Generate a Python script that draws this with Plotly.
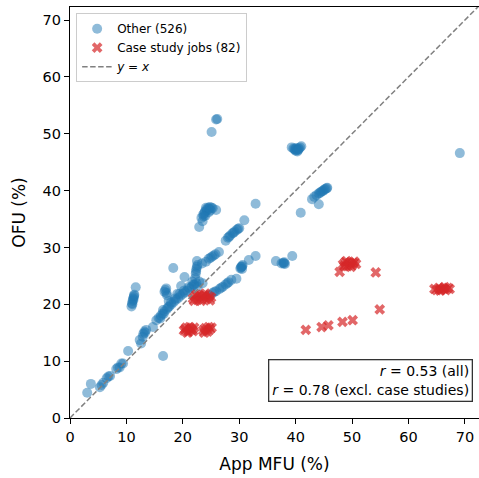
import plotly.graph_objects as go

# ---- data ----
other_mfu = [3.05, 3.7, 5.3, 5.6, 5.9, 6.5, 6.8, 7.1, 8.2, 8.5, 8.8, 9.1, 9.4, 10.3,
             10.9, 11.0, 11.1, 11.2, 11.3, 11.4, 11.65, 11.05, 11.25, 11.35,
             12.35, 12.6, 12.9, 13.2, 13.5, 14.7, 16.5, 13.0, 13.3,
             16.75, 17.05, 17.2, 16.9, 17.1,
             15.3, 15.7, 16.1, 16.4, 16.5, 16.8, 17.2, 17.5, 17.6, 18.0, 18.4, 18.8, 19.0, 19.2,
             19.6, 19.7, 20.0, 20.4, 20.8, 21.2, 21.6, 21.7, 22.0, 22.4, 22.6, 22.9, 23.5,
             16.0, 16.6, 17.4, 17.9, 18.6, 19.4, 20.2, 21.0, 21.9,
             18.3, 20.3,
             22.2, 22.3, 22.4, 22.6, 22.5, 22.35, 22.5,
             23.4, 24.1, 24.6, 25.2, 25.8, 26.4, 24.9, 25.5,
             24.7, 25.3, 25.9, 26.5, 27.1, 27.6, 28.1, 28.6, 29.5, 25.6, 26.8, 27.9,
             27.6, 28.0, 28.4, 28.8, 29.2, 29.6, 30.0, 30.9, 32.9, 28.2, 29.0, 29.8,
             30.2, 30.4, 30.6, 30.5, 31.7, 32.9, 30.3, 30.5,
             23.3, 23.6, 23.9, 24.2, 24.5, 24.8, 25.1, 24.0, 23.5, 24.6, 25.3, 25.9, 22.9,
             23.8, 24.3, 24.7, 24.1, 24.9, 23.7,
             25.1, 25.9, 26.1,
             36.5, 37.5, 37.8, 38.1, 39.4, 37.9, 38.0,
             39.3, 39.6, 39.9, 40.2, 40.5, 40.8, 40.0, 40.3, 41.0, 39.8, 40.1, 40.6, 40.4,
             42.9, 43.3, 43.7, 44.1, 44.5, 44.9, 45.3, 45.6, 44.1, 40.9, 44.7, 45.1, 45.5, 44.3,
             69.1]
other_ofu = [4.45, 6.0, 5.4, 5.8, 6.2, 7.0, 7.3, 7.4, 8.6, 8.9, 8.9, 9.6, 9.6, 11.8,
             19.6, 20.2, 20.6, 21.0, 21.3, 21.7, 23.0, 20.0, 20.8, 21.5,
             13.7, 13.1, 14.3, 15.2, 15.5, 16.0, 10.9, 14.8, 15.0,
             22.2, 22.8, 21.6, 22.5, 22.0,
             17.2, 17.6, 18.0, 18.4, 19.0, 18.8, 19.2, 20.6, 19.6, 20.0, 20.4, 20.8, 21.8, 21.1,
             21.5, 23.2, 21.8, 22.1, 22.4, 22.8, 23.1, 24.0, 23.4, 23.7, 23.1, 24.0, 23.7,
             17.5, 18.3, 19.5, 20.3, 21.0, 21.8, 22.4, 23.0, 23.5,
             26.4, 24.8,
             24.6, 25.4, 26.2, 26.9, 27.6, 25.8, 26.6,
             27.2, 27.5, 28.0, 28.4, 28.8, 29.2, 28.2, 28.6,
             21.6, 22.0, 22.3, 22.7, 23.1, 23.5, 23.9, 24.3, 24.5, 22.2, 22.9, 23.7,
             31.2, 31.7, 32.1, 32.5, 32.8, 33.1, 33.4, 34.8, 37.7, 31.9, 32.6, 33.3,
             26.3, 26.6, 26.9, 26.2, 27.8, 28.5, 26.5, 26.7,
             35.2, 35.8, 36.3, 36.7, 37.0, 37.1, 37.0, 35.6, 34.6, 36.2, 36.9, 36.6, 33.6,
             36.0, 36.5, 36.8, 37.0, 36.5, 35.5,
             50.3, 52.5, 52.6,
             27.6, 27.2, 27.3, 27.1, 28.5, 27.2, 27.4,
             47.6, 47.4, 47.2, 47.2, 47.3, 47.6, 47.0, 46.9, 47.8, 47.3, 47.5, 47.4, 47.1,
             38.5, 38.9, 39.2, 39.5, 39.8, 40.0, 40.3, 40.5, 37.6, 36.1, 39.9, 40.2, 40.4, 39.6,
             46.6]

case_mfu = [21.8, 22.2, 22.6, 23.0, 23.4, 23.8, 24.2, 24.6, 25.0, 22.4, 23.2, 24.0, 24.8, 22.0, 23.6,
            20.2, 20.6, 21.0, 21.4, 21.8, 22.0, 20.8, 21.2, 21.6, 20.4,
            23.6, 24.0, 24.4, 24.8, 25.1, 24.2, 24.6, 23.8,
            48.4, 48.8, 49.2, 49.6, 50.0, 50.4, 50.7, 49.0, 49.8, 48.6, 50.2,
            47.8, 54.2, 54.9, 41.8, 44.6, 45.8, 48.3, 50.1,
            64.6, 65.0, 65.4, 65.8, 66.2, 66.6, 67.0, 67.3, 65.6, 66.4]
case_ofu = [21.0, 21.4, 20.8, 21.5, 21.1, 21.6, 20.9, 21.4, 21.2, 21.7, 20.6, 21.9, 20.7, 20.6, 21.3,
            15.4, 15.9, 15.2, 15.7, 15.3, 15.9, 15.0, 16.0, 15.5, 15.6,
            15.4, 15.8, 15.2, 15.6, 15.9, 15.5, 16.0, 15.0,
            27.0, 27.4, 26.7, 27.3, 26.9, 27.5, 27.1, 27.6, 26.6, 26.7, 27.3,
            25.7, 25.6, 19.1, 15.5, 16.0, 16.3, 16.9, 17.2,
            22.7, 22.5, 22.9, 22.6, 22.8, 22.5, 22.9, 22.7, 22.4, 23.0]

diag = [0, 72.5]
ticks = [0, 10, 20, 30, 40, 50, 60, 70]
tick_text = ["0", "10", "20", "30", "40", "50", "60", "70"]

FONT = "DejaVu Sans"

fig = go.Figure()
fig.add_trace(go.Scatter(
    x=other_mfu, y=other_ofu, mode="markers", name="Other (526)",
    marker=dict(color="rgba(31,119,180,0.5)", size=10, line=dict(width=0)),
))
fig.add_trace(go.Scatter(
    x=case_mfu, y=case_ofu, mode="markers", name="Case study jobs (82)",
    marker=dict(color="rgba(214,39,40,0.7)", size=9.5, symbol="x", line=dict(width=0)),
))
fig.add_trace(go.Scatter(
    x=diag, y=diag, mode="lines", name="<i>y</i> = <i>x</i>",
    line=dict(color="gray", width=1.5, dash="5.5px,2.5px"),
))

axis_common = dict(
    showgrid=False, zeroline=False, showline=True, linecolor="black", linewidth=1.3,
    ticks="outside", ticklen=5, tickwidth=1.2, tickcolor="black",
    tickvals=ticks, ticktext=tick_text,
    tickfont=dict(family=FONT, size=14.5, color="black"),
)

fig.update_layout(
    width=479, height=478,
    margin=dict(l=70, r=0, t=7, b=60),
    paper_bgcolor="white", plot_bgcolor="white",
    font=dict(family=FONT, color="black"),
    xaxis=dict(range=[0, 72.5], mirror=True,
               title=dict(text="App MFU (%)", font=dict(family=FONT, size=17), standoff=14),
               **axis_common),
    yaxis=dict(range=[0, 72.3], mirror=False,
               title=dict(text="OFU (%)", font=dict(family=FONT, size=17), standoff=12),
               **axis_common),
    legend=dict(x=0.015, y=0.985, xanchor="left", yanchor="top",
                bgcolor="rgba(255,255,255,0.8)", bordercolor="#cccccc", borderwidth=1,
                font=dict(family=FONT, size=12), tracegroupgap=0, itemwidth=30),
    showlegend=True,
)

fig.add_annotation(
    xref="paper", yref="paper", x=0.985, y=0.038, xanchor="right", yanchor="bottom",
    text="<i>r</i> = 0.53 (all)<br><i>r</i> = 0.78 (excl. case studies)",
    align="right", showarrow=False,
    font=dict(family=FONT, size=14, color="black"),
    bordercolor="#333333", borderwidth=1.3, borderpad=3, bgcolor="white",
)

fig.write_html("out.html")
